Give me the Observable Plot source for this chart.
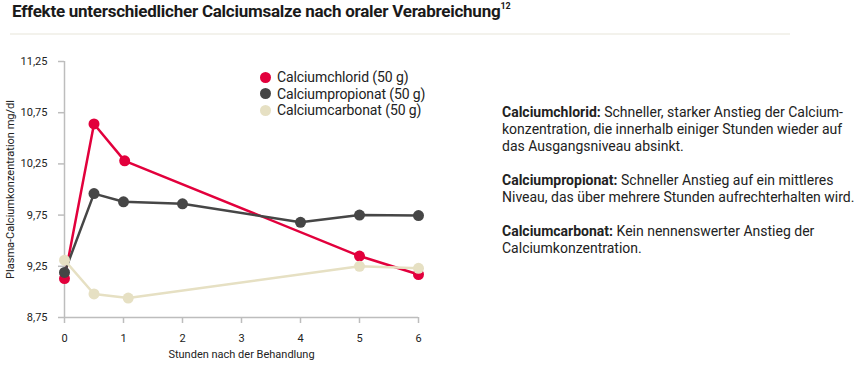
<!DOCTYPE html>
<html><head><meta charset="utf-8">
<script src="https://cdn.jsdelivr.net/npm/d3@7"></script>
<script src="https://cdn.jsdelivr.net/npm/@observablehq/plot@0.6"></script>
<style>
body{margin:0;background:#fff;font-family:Roboto,"Noto Sans",sans-serif;color:#222;}
#wrap{position:relative;width:860px;height:375px;overflow:hidden;}
#title{position:absolute;left:12px;top:1px;font-weight:700;font-size:17px;letter-spacing:-0.25px;color:#1a1a1a;white-space:nowrap;}
#title sup{font-size:9px;vertical-align:8px;letter-spacing:0;}
#sep{position:absolute;left:10px;top:33px;width:780px;height:2px;background:#f3f2ec;}
#plot{position:absolute;left:0;top:0;}
#legend{position:absolute;left:260px;top:69px;font-size:14px;line-height:16.5px;color:#222;letter-spacing:-0.1px;}
#legend div{display:flex;align-items:center;white-space:nowrap;}
#legend span.c{display:inline-block;width:11px;height:11px;border-radius:50%;margin-right:6px;}
#notes{position:absolute;left:502px;top:104px;font-size:14px;line-height:17px;color:#222;width:360px;}
#notes p{margin:0 0 17px 0;white-space:nowrap;}
</style></head>
<body><div id="wrap">
<div id="title"></div>
<div id="sep"></div>
<div id="plot"></div>
<div id="legend"></div>
<div id="notes"></div>
</div>
<script>
const titleText = "Effekte unterschiedlicher Calciumsalze nach oraler Verabreichung";
const titleRef = "12";
const seriesNames = ["Calciumchlorid (50 g)", "Calciumpropionat (50 g)", "Calciumcarbonat (50 g)"];
const seriesColors = ["#e2003c", "#464646", "#e6e0c3"];
const hoursChlorid = [0, 0.5, 1.02, 5, 6];
const chlorid = [9.13, 10.64, 10.28, 9.35, 9.17];
const hoursPropionat = [0, 0.5, 1, 2, 4, 5, 6];
const propionat = [9.19, 9.96, 9.88, 9.86, 9.68, 9.75, 9.745];
const hoursCarbonat = [0, 0.5, 1.08, 5, 6];
const carbonat = [9.31, 8.98, 8.94, 9.25, 9.23];
const xTicks = [0, 1, 2, 3, 4, 5, 6];
const yTicks = [8.75, 9.25, 9.75, 10.25, 10.75, 11.25];
const xLabel = "Stunden nach der Behandlung";
const yLabel = "Plasma-Calciumkonzentration mg/dl";
const noteHeads = ["Calciumchlorid:", "Calciumpropionat:", "Calciumcarbonat:"];
const noteBodies = [
  " Schneller, starker Anstieg der Calcium-<br>konzentration, die innerhalb einiger Stunden wieder auf<br>das Ausgangsniveau absinkt.",
  " Schneller Anstieg auf ein mittleres<br>Niveau, das über mehrere Stunden aufrechterhalten wird.",
  " Kein nennenswerter Anstieg der<br>Calciumkonzentration."
];

document.getElementById("title").innerHTML = titleText + "<sup>" + titleRef + "</sup>";
document.getElementById("legend").innerHTML = seriesNames.map((n,i)=>`<div><span class="c" style="background:${seriesColors[i]}"></span>${n}</div>`).join("");
document.getElementById("notes").innerHTML = noteHeads.map((h,i)=>`<p><b>${h}</b>${noteBodies[i]}</p>`).join("");

const data = [
  ...hoursChlorid.map((h,i)=>({s:seriesNames[0], h, v:chlorid[i]})),
  ...hoursPropionat.map((h,i)=>({s:seriesNames[1], h, v:propionat[i]})),
  ...hoursCarbonat.map((h,i)=>({s:seriesNames[2], h, v:carbonat[i]}))
];
const fmt = d => d.toFixed(2).replace(".", ",");

const chart = Plot.plot({
  width: 430, height: 375,
  marginTop: 61, marginBottom: 58, marginLeft: 64, marginRight: 12,
  style: {fontFamily: "Roboto, 'Noto Sans', sans-serif", fontSize: "11px", color: "#222", background: "transparent"},
  x: {domain: [0, 6]},
  y: {domain: [8.75, 11.25]},
  color: {domain: seriesNames, range: seriesColors},
  marks: [
    Plot.ruleX([0], {stroke: "#bdbdbd", strokeWidth: 1.5}),
    Plot.ruleY([8.75], {stroke: "#bdbdbd", strokeWidth: 1.5}),
    Plot.axisY({ticks: yTicks, tickSize: 6, text: null, stroke: "#bdbdbd", strokeWidth: 1.5, label: null}),
    Plot.axisY({ticks: yTicks, tickSize: 0, tickPadding: 17, tickFormat: fmt, fill: "#222", label: yLabel, labelAnchor: "center", labelArrow: "none", labelOffset: 58}),
    Plot.axisX({ticks: xTicks, tickSize: 6, text: null, stroke: "#bdbdbd", strokeWidth: 1.5, label: null}),
    Plot.axisX({ticks: xTicks, tickSize: 0, tickPadding: 17, tickFormat: d => String(d), fill: "#222", label: xLabel, labelAnchor: "center", labelArrow: "none", labelOffset: 40}),
    Plot.line(data, {x: "h", y: "v", z: "s", stroke: "s", strokeWidth: 2.5}),
    Plot.dot(data, {x: "h", y: "v", fill: "s", r: 5.5})
  ]
});
document.getElementById("plot").appendChild(chart);
</script></body></html>
